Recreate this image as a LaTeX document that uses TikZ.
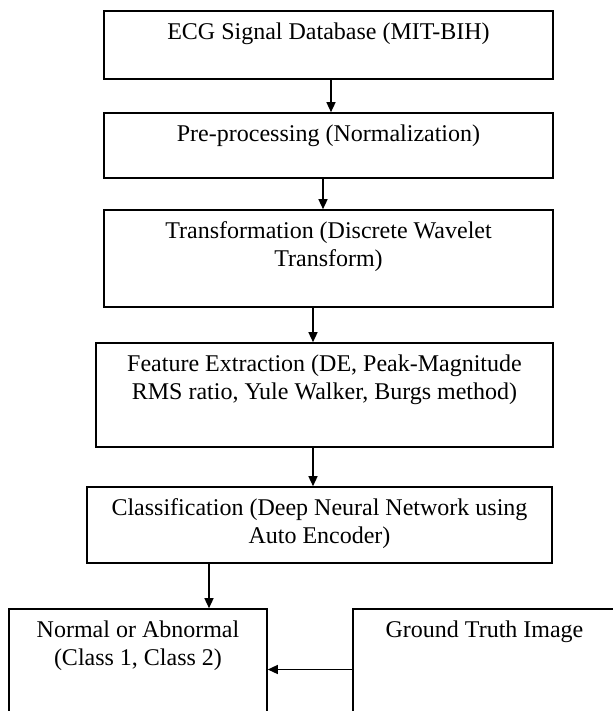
\documentclass[tikz,border=0pt]{standalone}
\usepackage{fontspec}
\setmainfont{Liberation Serif}
\usetikzlibrary{arrows.meta,positioning,fit}
\tikzset{flowbox/.style={draw,line width=0.8pt,inner sep=0pt},
  flowtext/.style={align=center,font=\fontsize{12pt}{14pt}\selectfont,inner sep=0pt,anchor=north},
  flowarrow/.style={line width=0.7pt,-{Triangle[length=5pt,width=4.5pt]}}}

\begin{document}
\begin{tikzpicture}[x=0.5pt,y=-0.5pt]
\useasboundingbox (0,0) rectangle (613,711);
\clip (0,0) rectangle (613,711);

% boxes of the chain
\node[flowbox, fit={(104,11) (553,79)}] (ecg) {};
\node[flowbox, fit={(104,113) (553,178)}] (prep) {};
\node[flowbox, fit={(104,210) (553,307)}] (dwt) {};
\node[flowbox, fit={(96,343) (553,447)}] (feat) {};
\node[flowbox, fit={(87,487) (552,563)}] (classif) {};
\node[flowbox, fit={(9,609) (267,730)}] (result) {};
\node[flowbox, fit={(353,609) (616,730)}] (truth) {};

% texts, near the top of each box
\node[below=6pt of ecg.north, flowtext] (ecgtext) {ECG Signal Database (MIT-BIH)};
\node[below=6pt of prep.north, flowtext] (preptext) {Pre-processing (Normalization)};
\node[below=6pt of dwt.north, flowtext] (dwttext) {Transformation (Discrete Wavelet\\Transform)};
\node[below=6pt of feat.north, flowtext] (feattext) {Feature Extraction (DE, Peak-Magnitude\\RMS ratio, Yule Walker, Burgs method)};
\node[below=6pt of classif.north, flowtext] (classiftext) {Classification (Deep Neural Network using\\Auto Encoder)};
\node[below=6pt of result.north, flowtext] (resulttext) {Normal or Abnormal\\(Class 1, Class 2)};
\node[below=6pt of truth.north, flowtext] (truthtext) {Ground Truth Image};

% arrows
\draw[flowarrow] ([xshift=1.25pt]ecg.south) -- ([xshift=1.25pt]ecg.south |- prep.north);
\draw[flowarrow] ([xshift=-2.75pt]prep.south) -- ([xshift=-2.75pt]prep.south |- dwt.north);
\draw[flowarrow] ([xshift=-7.75pt]dwt.south) -- ([xshift=-7.75pt]dwt.south |- feat.north);
\draw[flowarrow] ([xshift=-5.75pt]feat.south) -- ([xshift=-5.75pt]feat.south |- classif.north);
\draw[flowarrow] ([xshift=-55.25pt]classif.south) -- ([xshift=-55.25pt]classif.south |- result.north);
\draw[flowarrow] (truth.west) -- (result.east);

\end{tikzpicture}
\end{document}
